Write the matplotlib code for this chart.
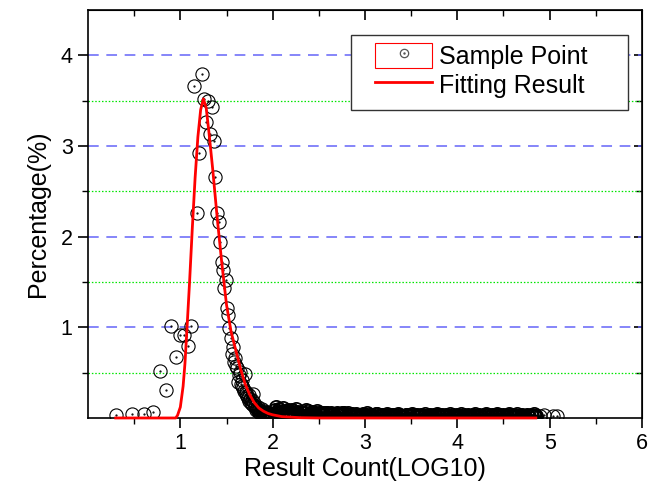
import matplotlib.pyplot as plt
from matplotlib.patches import Rectangle
from matplotlib.lines import Line2D
from matplotlib.legend_handler import HandlerTuple

plt.rcParams['font.family'] = ['Liberation Sans', 'DejaVu Sans']

# sample points: x = log10(result count), y = percentage
peak_x = [0.301, 0.477, 0.602, 0.699, 0.778, 0.845, 0.903, 0.954, 1.000, 1.041,
          1.079, 1.114, 1.146, 1.176, 1.204, 1.230, 1.255, 1.279, 1.301, 1.322,
          1.342, 1.362, 1.380, 1.398, 1.415, 1.431, 1.447, 1.462, 1.477, 1.491,
          1.505, 1.519, 1.531, 1.544, 1.556, 1.568, 1.580, 1.591, 1.602, 1.613]
peak_y = [0.03, 0.04, 0.04, 0.07, 0.52, 0.31, 1.01, 0.67, 0.92, 0.91,
          0.79, 1.01, 3.66, 2.26, 2.92, 3.79, 3.52, 3.26, 3.50, 3.13,
          3.43, 3.06, 2.66, 2.26, 2.16, 1.94, 1.72, 1.63, 1.43, 1.52,
          1.21, 1.14, 0.99, 0.88, 0.71, 0.78, 0.62, 0.66, 0.57, 0.55]

slope_x = [1.623, 1.633, 1.643, 1.653, 1.663, 1.672, 1.681, 1.690, 1.699, 1.708,
           1.716, 1.724, 1.732, 1.740, 1.748, 1.756, 1.763, 1.771, 1.778, 1.785,
           1.792, 1.799, 1.806, 1.813, 1.820, 1.826, 1.833, 1.839, 1.845, 1.851,
           1.857, 1.863, 1.869, 1.875, 1.881, 1.886, 1.892, 1.898, 1.903, 1.908,
           1.914, 1.919, 1.924, 1.929, 1.934, 1.940, 1.944, 1.949, 1.954, 1.959,
           1.964, 1.968, 1.973, 1.978, 1.982, 1.987, 1.991, 1.996]
slope_y = [0.40, 0.47, 0.51, 0.38, 0.35, 0.42, 0.33, 0.30, 0.48, 0.27,
           0.29, 0.24, 0.22, 0.25, 0.19, 0.21, 0.17, 0.20, 0.15, 0.26,
           0.14, 0.16, 0.12, 0.13, 0.09, 0.11, 0.10, 0.08, 0.12, 0.07,
           0.09, 0.06, 0.08, 0.07, 0.10, 0.05, 0.06, 0.07, 0.05, 0.08,
           0.06, 0.04, 0.05, 0.06, 0.04, 0.07, 0.05, 0.04, 0.03, 0.05,
           0.04, 0.03, 0.05, 0.04, 0.03, 0.04, 0.03, 0.04]

tail_x = [2.02, 2.05, 2.07, 2.10, 2.13, 2.15, 2.18, 2.21, 2.24, 2.26,
          2.29, 2.32, 2.35, 2.38, 2.41, 2.44, 2.47, 2.50, 2.53, 2.56,
          2.59, 2.62, 2.65, 2.68, 2.71, 2.74, 2.77, 2.80, 2.83, 2.86,
          2.89, 2.92, 2.95, 2.98, 3.01, 3.04, 3.07, 3.10, 3.13, 3.16,
          3.19, 3.22, 3.25, 3.28, 3.31, 3.34, 3.37, 3.40, 3.43, 3.46,
          3.49, 3.52, 3.55, 3.58, 3.61, 3.64, 3.67, 3.70, 3.73, 3.76,
          3.79, 3.82, 3.85, 3.88, 3.91, 3.94, 3.97, 4.00, 4.03, 4.06,
          4.09, 4.12, 4.15, 4.18, 4.21, 4.24, 4.27, 4.30, 4.33, 4.36,
          4.39, 4.42, 4.45, 4.48, 4.51, 4.54, 4.57, 4.60, 4.63, 4.66,
          4.69, 4.72, 4.75, 4.78, 4.81, 4.84]
tail_y = [0.09, 0.06, 0.10, 0.07, 0.05, 0.08, 0.06, 0.09, 0.05, 0.07,
          0.04, 0.06, 0.05, 0.08, 0.04, 0.05, 0.03, 0.06, 0.04, 0.03,
          0.05, 0.03, 0.04, 0.02, 0.04, 0.03, 0.05, 0.02, 0.03, 0.04,
          0.02, 0.03, 0.02, 0.04, 0.03, 0.02, 0.03, 0.02, 0.04, 0.02,
          0.03, 0.02, 0.03, 0.01, 0.03, 0.02, 0.03, 0.02, 0.01, 0.03,
          0.02, 0.03, 0.01, 0.02, 0.03, 0.02, 0.01, 0.03, 0.02, 0.02,
          0.03, 0.01, 0.02, 0.03, 0.02, 0.01, 0.02, 0.03, 0.02, 0.01,
          0.02, 0.03, 0.01, 0.02, 0.02, 0.03, 0.01, 0.02, 0.03, 0.02,
          0.01, 0.02, 0.03, 0.02, 0.01, 0.02, 0.03, 0.01, 0.02, 0.02,
          0.01, 0.02, 0.03, 0.01, 0.02, 0.01]

tail2_x = [2.035, 2.06, 2.085, 2.115, 2.14, 2.165, 2.195, 2.225, 2.25, 2.275,
           2.305, 2.335, 2.365, 2.395, 2.425, 2.455, 2.485, 2.515, 2.545, 2.575,
           2.605, 2.635, 2.665, 2.695, 2.725, 2.755, 2.785, 2.815, 2.845, 2.875,
           2.905, 2.935, 2.965, 2.995, 3.025, 3.055, 3.085, 3.115, 3.145, 3.175,
           3.205, 3.235, 3.265, 3.295, 3.325, 3.355, 3.385, 3.415, 3.445, 3.475,
           3.505, 3.535, 3.565, 3.595, 3.625, 3.655, 3.685, 3.715, 3.745, 3.775,
           3.805, 3.835, 3.865, 3.895, 3.925, 3.955, 3.985, 4.015, 4.045, 4.075,
           4.105, 4.135, 4.165, 4.195, 4.225, 4.255, 4.285, 4.315, 4.345, 4.375,
           4.405, 4.435, 4.465, 4.495, 4.525, 4.555, 4.585, 4.615, 4.645, 4.675,
           4.705, 4.735, 4.765, 4.795, 4.825, 4.855]
tail2_y = [0.12, 0.08, 0.05, 0.11, 0.07, 0.09, 0.05, 0.08, 0.10, 0.06,
           0.07, 0.05, 0.09, 0.04, 0.07, 0.06, 0.08, 0.04, 0.06, 0.05,
           0.03, 0.06, 0.02, 0.05, 0.03, 0.06, 0.03, 0.05, 0.02, 0.03,
           0.04, 0.01, 0.03, 0.02, 0.05, 0.03, 0.01, 0.04, 0.02, 0.03,
           0.01, 0.04, 0.02, 0.03, 0.01, 0.04, 0.02, 0.01, 0.03, 0.02,
           0.04, 0.01, 0.03, 0.02, 0.01, 0.04, 0.02, 0.01, 0.03, 0.04,
           0.02, 0.03, 0.01, 0.02, 0.04, 0.03, 0.01, 0.02, 0.04, 0.03,
           0.01, 0.02, 0.03, 0.04, 0.01, 0.02, 0.03, 0.04, 0.01, 0.03,
           0.03, 0.04, 0.01, 0.03, 0.02, 0.04, 0.01, 0.03, 0.04, 0.01,
           0.03, 0.01, 0.02, 0.03, 0.04, 0.02]

# last few isolated points at the far end
end_x = [4.89, 4.94, 5.04, 5.08]
end_y = [0.02, 0.03, 0.02, 0.02]

# fitted curve
fit_x = [0.30, 0.95, 0.97, 1.00, 1.03, 1.05, 1.07, 1.10, 1.13, 1.16, 1.19, 1.22,
         1.25, 1.28, 1.31, 1.35, 1.40, 1.45, 1.50, 1.55, 1.60, 1.65, 1.70, 1.75,
         1.80, 1.85, 1.90, 1.95, 2.00, 2.10, 2.30, 2.50, 4.85]
fit_y = [0.0, 0.0, 0.03, 0.12, 0.35, 0.60, 0.95, 1.50, 2.10, 2.65, 3.10, 3.40,
         3.52, 3.42, 3.15, 2.75, 2.20, 1.70, 1.25, 0.95, 0.75, 0.55, 0.38, 0.26,
         0.17, 0.11, 0.075, 0.05, 0.035, 0.015, 0.003, 0.0, 0.0]

x_ticks = [1, 2, 3, 4, 5, 6]
x_minor = [0.5, 1.5, 2.5, 3.5, 4.5, 5.5]
y_ticks = [1, 2, 3, 4]
y_minor = [0.5, 1.5, 2.5, 3.5]

head_x = peak_x + slope_x + end_x
head_y = peak_y + slope_y + end_y
dense_x = tail_x + tail2_x
dense_y = tail_y + tail2_y

fig = plt.figure(figsize=(6.49, 4.84), dpi=100)
ax = fig.add_axes([0.1356, 0.1364, 0.8536, 0.8429])

ax.plot(head_x, head_y, 'o', ms=9.5, mfc='none', mec='black', mew=0.8, zorder=3)
ax.plot(head_x, head_y, '.', ms=1.2, color='black', zorder=3)
# the long tail is a solid mass of overlapping circles in the original
ax.plot(dense_x, dense_y, 'o', ms=9.5, mfc='none', mec='black', mew=1.3, zorder=3)
ax.plot(dense_x, dense_y, '.', ms=3, color='black', zorder=3)
ax.plot(fit_x, fit_y, color='red', lw=2, zorder=4, clip_on=False)

ax.set_xlim(0, 6)
ax.set_ylim(0, 4.5)
ax.set_xticks(x_ticks)
ax.set_xticks(x_minor, minor=True)
ax.set_yticks(y_ticks)
ax.set_yticks(y_minor, minor=True)

ax.yaxis.grid(True, which='major', color='#6464f8', linestyle=(0, (7, 5)), lw=1.1)
ax.yaxis.grid(True, which='minor', color='#00e600', linestyle=(0, (1.2, 1.5)), lw=0.9)
ax.set_axisbelow(True)

ax.tick_params(which='major', direction='out', length=7, width=1.2, labelsize=15.5, pad=4)
ax.tick_params(which='minor', direction='out', length=4, width=1.0)
for s in ax.spines.values():
    s.set_linewidth(1.2)

# mirrored ticks pointing inward on top and right
top = ax.secondary_xaxis('top')
top.set_xticks(x_ticks)
top.set_xticks(x_minor, minor=True)
top.tick_params(which='major', direction='in', length=7, width=1.2, labeltop=False)
top.tick_params(which='minor', direction='in', length=4, width=1.0)
right = ax.secondary_yaxis('right')
right.set_yticks(y_ticks)
right.set_yticks(y_minor, minor=True)
right.tick_params(which='major', direction='in', length=6, width=1.2, labelright=False)
right.tick_params(which='minor', direction='in', length=4, width=1.0)

ax.set_xlabel('Result Count(LOG10)', fontsize=18, labelpad=2)
ax.set_ylabel('Percentage(%)', fontsize=18, labelpad=8)

# legend: Origin-style wide frame drawn separately, entries placed inside it
frame = Rectangle((351 / 649, 1 - 110 / 484), 277 / 649, 75 / 484, transform=fig.transFigure,
                  fc='white', ec='#333333', lw=1.0, clip_on=False, zorder=4.5)
ax.add_patch(frame)
sample_handle = (Rectangle((0, 0), 1, 1, fc='white', ec='red', lw=0.8),
                 Line2D([], [], ls='none', marker='o', ms=6, mfc='none', mec='#555555', mew=0.9),
                 Line2D([], [], ls='none', marker='.', ms=1.5, color='#555555'))
fit_handle = Line2D([], [], color='red', lw=2)
leg = ax.legend([sample_handle, fit_handle], ['Sample Point', 'Fitting Result'],
                handler_map={tuple: HandlerTuple(ndivide=1, pad=0)},
                loc='upper left', bbox_to_anchor=(375 / 649, 1 - 43 / 484),
                bbox_transform=fig.transFigure, borderaxespad=0, borderpad=0,
                fontsize=18, frameon=False,
                handlelength=2.28, handleheight=1.16, labelspacing=0.12,
                handletextpad=0.28)

fig.savefig('out.png', dpi=100)
